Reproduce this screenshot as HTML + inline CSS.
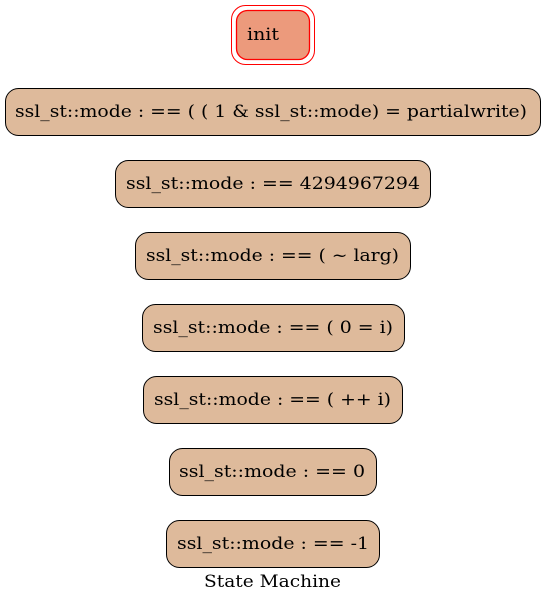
<!DOCTYPE html>
<html><head><meta charset="utf-8"><style>
html,body{margin:0;padding:0;background:#fff;width:545px;height:604px;overflow:hidden}
svg text{font-family:"DejaVu Serif","Liberation Serif",serif;font-size:17px;fill:#000}
</style></head><body>
<svg width="545" height="604" viewBox="0 0 545 604" xmlns="http://www.w3.org/2000/svg">
<rect x="231.5" y="5.5" width="83" height="59" rx="14" fill="none" stroke="#ff0000" stroke-width="1"/>
<rect x="236.5" y="10.5" width="73" height="49" rx="11" fill="#ec9a7c" stroke="#ff0000" stroke-width="1.3"/>
<text x="247" y="40" textLength="32" lengthAdjust="spacingAndGlyphs">init</text>
<g fill="#deba9b" stroke="#000" stroke-width="1">
<rect x="5.5" y="88.5" width="535" height="47" rx="13"/>
<rect x="115.5" y="160.5" width="315" height="47" rx="13"/>
<rect x="135.5" y="232.5" width="275" height="47" rx="13"/>
<rect x="142.5" y="304.5" width="262" height="47" rx="13"/>
<rect x="143.5" y="376.5" width="259" height="47" rx="13"/>
<rect x="169.5" y="448.5" width="207" height="47" rx="13"/>
<rect x="166.5" y="520.5" width="213" height="47" rx="13"/>
</g>
<text x="15" y="117" textLength="512" lengthAdjust="spacingAndGlyphs">ssl_st::mode : == ( ( 1 &amp; ssl_st::mode) = partialwrite)</text>
<text x="126" y="189" textLength="294" lengthAdjust="spacingAndGlyphs">ssl_st::mode : == 4294967294</text>
<text x="146" y="261" textLength="253" lengthAdjust="spacingAndGlyphs">ssl_st::mode : == ( ~ larg)</text>
<text x="153" y="333" textLength="240" lengthAdjust="spacingAndGlyphs">ssl_st::mode : == ( 0 = i)</text>
<text x="154" y="405" textLength="237" lengthAdjust="spacingAndGlyphs">ssl_st::mode : == ( ++ i)</text>
<text x="179" y="477" textLength="186" lengthAdjust="spacingAndGlyphs">ssl_st::mode : == 0</text>
<text x="177" y="549" textLength="192" lengthAdjust="spacingAndGlyphs">ssl_st::mode : == -1</text>
<text x="204" y="587" textLength="137" lengthAdjust="spacingAndGlyphs">State Machine</text>
</svg>
</body></html>
